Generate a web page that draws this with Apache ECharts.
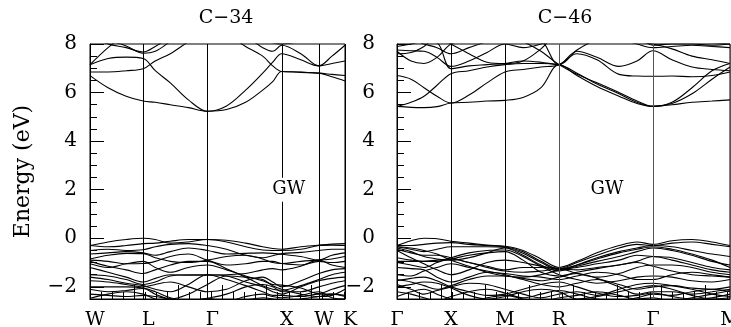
<!DOCTYPE html>
<html>
<head>
<meta charset="utf-8">
<script src="https://cdn.jsdelivr.net/npm/echarts@6/dist/echarts.min.js"></script>
<style>
  html, body { margin: 0; padding: 0; background: #fff; }
  #chart { width: 731px; height: 327px; }
</style>
</head>
<body>
<div id="chart"></div>
<script>
// k-path positions (path length units) and labels
var kLeft = [0, 18, 36, 53, 65, 80, 98, 117, 136, 155, 172, 182, 191, 210, 228, 241, 254];
var kLeftTicks = [0, 53, 117, 191, 228, 254];
var kLeftNames = ['W', 'L', 'Γ', 'X', 'W', 'K'];

var kRight = [0, 14, 27, 40, 54, 72, 90, 108, 126, 144, 162, 180, 200, 222, 240, 256, 275, 295, 315, 333];
var kRightTicks = [0, 54, 108, 162, 256, 333];
var kRightNames = ['Γ', 'X', 'M', 'R', 'Γ', 'M'];

var energyTicks = [-2, 0, 2, 4, 6, 8];

// C-34 bands (eV), one value per kLeft point
var c34Cond = [
  [6.7, 6.2, 5.85, 5.65, 5.6, 5.5, 5.38, 5.23, 5.3, 5.6, 6.1, 6.45, 6.87, 6.83, 6.8, 6.65, 6.48],
  [6.85, 6.85, 6.9, 6.98, 7.3, 7.6, 8.1, 8.6, 8.4, 7.9, 7.5, 7.1, 6.87, 6.85, 6.8, 6.75, 6.7],
  [7.15, 7.4, 7.46, 7.4, 6.9, 6.4, 5.7, 5.23, 5.45, 6.1, 6.8, 7.25, 7.6, 7.35, 7.1, 7.2, 7.3],
  [7.15, 7.85, 8.4, 8.8, 9.0, 9.0, 8.9, 8.8, 8.5, 8.3, 7.85, 7.7, 7.95, 7.6, 7.1, 7.5, 7.95],
  [8.3, 8.0, 7.85, 7.67, 7.9, 8.3, 8.8, 9.0, 9.0, 8.9, 8.6, 8.3, 8.1, 8.2, 8.3, 8.4, 8.5],
  [8.4, 8.15, 7.92, 7.62, 7.7, 8.1, 8.6, 9.0, 8.8, 8.4, 8.2, 8.05, 8.0, 8.1, 8.2, 8.3, 8.4]
];
var c34Val = [
  [-0.3, -0.15, -0.05, 0.0, -0.05, -0.2, -0.15, -0.05, -0.08, -0.2, -0.35, -0.42, -0.45, -0.35, -0.28, -0.24, -0.22],
  [-0.3, -0.35, -0.3, -0.22, -0.2, -0.12, -0.05, -0.05, -0.15, -0.35, -0.48, -0.5, -0.5, -0.45, -0.3, -0.28, -0.3],
  [-0.5, -0.45, -0.5, -0.47, -0.35, -0.25, -0.22, -0.3, -0.45, -0.7, -0.8, -0.72, -0.63, -0.58, -0.5, -0.45, -0.45],
  [-0.65, -0.6, -0.55, -0.6, -0.7, -0.55, -0.4, -0.5, -0.65, -0.62, -0.6, -0.62, -0.66, -0.75, -0.9, -0.7, -0.6],
  [-0.85, -0.7, -0.62, -0.63, -0.8, -0.95, -1.0, -0.9, -0.75, -0.7, -0.85, -1.0, -1.04, -0.95, -0.9, -0.85, -0.75],
  [-0.9, -0.95, -1.05, -1.04, -0.95, -0.75, -0.65, -0.9, -1.1, -1.05, -0.95, -0.95, -1.04, -1.1, -0.95, -1.0, -0.95],
  [-0.95, -1.15, -1.3, -1.45, -1.3, -1.1, -0.95, -0.95, -1.25, -1.6, -1.95, -2.1, -2.14, -1.95, -1.7, -1.5, -1.4],
  [-1.05, -1.2, -1.05, -0.95, -1.2, -1.4, -1.2, -1.1, -1.3, -1.55, -1.75, -1.9, -1.93, -2.05, -2.28, -2.1, -1.95],
  [-1.2, -1.4, -1.6, -1.8, -1.65, -1.5, -1.52, -1.52, -1.5, -1.45, -1.3, -1.25, -1.3, -1.15, -0.9, -1.1, -1.2],
  [-1.5, -1.55, -1.7, -1.9, -1.8, -1.55, -1.5, -1.5, -1.55, -1.8, -2.0, -2.2, -2.3, -2.0, -1.75, -1.65, -1.6],
  [-1.6, -1.7, -1.85, -1.95, -2.1, -2.2, -1.9, -1.5, -1.7, -1.95, -2.2, -2.35, -2.35, -2.4, -2.3, -2.3, -2.35],
  [-1.75, -1.8, -1.9, -2.0, -1.9, -1.8, -2.0, -2.2, -2.1, -1.75, -1.6, -1.8, -2.0, -1.75, -1.45, -1.3, -1.25],
  [-2.0, -2.0, -2.0, -2.05, -2.2, -2.45, -2.6, -2.47, -2.3, -2.0, -1.9, -2.0, -2.2, -2.2, -2.0, -1.85, -1.75],
  [-2.1, -2.2, -2.15, -2.07, -2.3, -2.5, -2.3, -1.9, -1.55, -1.6, -1.7, -1.95, -2.1, -2.3, -2.4, -2.35, -2.1],
  [-2.3, -2.35, -2.4, -2.35, -2.4, -2.5, -2.6, -2.47, -2.6, -2.4, -2.3, -2.4, -2.45, -2.35, -2.2, -2.45, -2.5],
  [-2.47, -2.3, -2.2, -2.3, -2.5, -2.7, -2.8, -2.8, -2.7, -2.55, -2.45, -2.5, -2.6, -2.5, -2.4, -2.3, -2.4]
];

// C-46 bands (eV), one value per kRight point
var c46Cond = [
  [5.43, 5.39, 5.38, 5.42, 5.57, 5.6, 5.65, 5.68, 5.8, 6.2, 7.15, 6.7, 6.25, 5.85, 5.55, 5.43, 5.5, 5.6, 5.65, 5.7],
  [5.43, 5.6, 5.85, 6.3, 6.78, 6.9, 7.05, 7.15, 7.2, 7.2, 7.15, 6.8, 6.35, 5.95, 5.6, 5.43, 5.55, 5.95, 6.55, 7.05],
  [6.7, 6.55, 6.2, 5.85, 5.57, 5.9, 6.4, 6.85, 6.95, 7.05, 7.15, 7.6, 7.35, 6.75, 6.68, 6.67, 6.68, 6.65, 6.7, 6.85],
  [7.7, 7.3, 7.2, 7.45, 8.0, 8.2, 8.4, 8.5, 8.5, 8.2, 7.15, 7.7, 7.45, 7.08, 7.3, 7.72, 7.35, 7.05, 6.95, 6.9],
  [7.75, 7.72, 7.7, 7.45, 7.08, 7.3, 7.65, 8.0, 7.85, 8.0, 8.3, 8.5, 8.4, 8.2, 8.0, 7.85, 7.9, 7.95, 7.9, 7.85],
  [7.9, 8.0, 8.1, 8.05, 6.98, 7.1, 7.15, 7.2, 7.3, 7.25, 7.15, 7.75, 8.2, 8.5, 8.3, 7.95, 8.0, 8.0, 7.95, 8.0],
  [7.6, 7.65, 7.9, 8.3, 8.0, 7.6, 7.25, 7.19, 7.3, 7.8, 8.5, 8.6, 8.5, 8.3, 8.1, 8.0, 7.8, 7.5, 7.35, 7.2],
  [8.3, 8.2, 8.0, 7.85, 7.6, 7.85, 8.1, 8.3, 8.5, 8.6, 8.7, 8.6, 8.5, 8.4, 8.2, 8.1, 8.15, 8.1, 8.05, 8.0],
  [8.5, 8.6, 8.7, 8.8, 8.9, 8.8, 8.6, 8.4, 8.1, 7.7, 7.15, 6.75, 6.4, 6.0, 5.65, 5.43, 5.6, 6.2, 6.9, 7.2]
];
var c46Val = [
  [-0.3, -0.1, 0.0, -0.02, -0.12, -0.2, -0.28, -0.33, -0.5, -0.85, -1.2, -0.95, -0.6, -0.3, -0.15, -0.25, -0.1, -0.05, -0.15, -0.3],
  [-0.3, -0.3, -0.25, -0.2, -0.18, -0.25, -0.3, -0.35, -0.55, -0.95, -1.25, -1.0, -0.7, -0.4, -0.25, -0.3, -0.2, -0.15, -0.25, -0.35],
  [-0.35, -0.45, -0.55, -0.45, -0.35, -0.35, -0.35, -0.38, -0.62, -1.0, -1.3, -1.1, -0.8, -0.55, -0.4, -0.3, -0.35, -0.5, -0.65, -0.75],
  [-0.4, -0.55, -0.75, -0.85, -0.9, -0.8, -0.6, -0.4, -0.7, -1.1, -1.35, -1.15, -0.95, -0.75, -0.55, -0.4, -0.5, -0.7, -0.95, -1.1],
  [-0.45, -0.6, -0.7, -0.7, -0.8, -1.0, -1.15, -1.3, -1.2, -1.2, -1.25, -1.2, -1.05, -0.9, -0.7, -0.75, -0.8, -1.0, -1.2, -1.3],
  [-0.5, -0.8, -1.05, -1.3, -1.5, -1.3, -1.0, -0.9, -1.0, -1.15, -1.25, -1.3, -1.2, -1.1, -0.95, -0.75, -0.9, -1.1, -1.3, -1.4],
  [-0.8, -0.9, -0.95, -0.9, -0.85, -1.0, -1.2, -1.35, -1.4, -1.35, -1.25, -1.45, -1.6, -1.45, -1.2, -1.1, -1.1, -1.2, -1.4, -1.5],
  [-0.95, -0.95, -0.95, -0.95, -0.85, -0.7, -0.6, -0.55, -0.9, -1.4, -1.55, -1.4, -1.25, -1.1, -1.0, -1.15, -1.35, -1.5, -1.55, -1.6],
  [-1.0, -1.1, -1.2, -1.0, -0.8, -0.6, -0.5, -0.48, -0.75, -1.15, -1.5, -1.7, -1.85, -1.75, -1.6, -1.55, -1.6, -1.75, -1.8, -1.7],
  [-1.2, -1.25, -1.3, -1.6, -1.8, -1.6, -1.4, -1.45, -1.55, -1.6, -1.7, -1.55, -1.4, -1.5, -1.7, -1.7, -1.5, -1.4, -1.5, -1.6],
  [-1.5, -1.55, -1.35, -1.2, -1.05, -1.2, -1.35, -1.5, -1.7, -1.9, -2.0, -1.85, -1.7, -1.9, -2.1, -2.0, -1.95, -2.05, -2.1, -2.0],
  [-1.7, -1.8, -1.95, -2.1, -1.95, -1.7, -1.55, -1.55, -1.65, -1.75, -1.6, -1.45, -1.65, -2.0, -2.3, -2.2, -2.2, -2.3, -2.2, -2.1],
  [-1.75, -1.65, -1.6, -1.75, -2.0, -2.2, -2.35, -2.3, -2.1, -1.9, -1.8, -2.0, -2.25, -2.4, -2.35, -2.25, -2.4, -2.5, -2.45, -2.3],
  [-1.9, -2.1, -2.3, -2.15, -2.0, -1.85, -1.9, -2.1, -2.3, -2.45, -2.3, -2.2, -2.35, -2.1, -1.9, -1.85, -1.95, -2.1, -2.3, -2.4],
  [-2.0, -1.9, -1.8, -1.85, -2.05, -2.35, -2.5, -2.4, -2.2, -2.1, -2.2, -2.5, -2.4, -2.2, -2.05, -1.95, -2.1, -2.35, -2.5, -2.45],
  [-2.2, -2.3, -2.45, -2.6, -2.4, -2.2, -2.1, -2.25, -2.45, -2.3, -2.15, -2.3, -2.5, -2.6, -2.45, -2.3, -2.35, -2.2, -2.1, -2.2],
  [-2.4, -2.2, -2.1, -2.3, -2.5, -2.6, -2.45, -2.35, -2.5, -2.6, -2.45, -2.35, -2.2, -2.35, -2.5, -2.45, -2.6, -2.45, -2.3, -2.15],
  [-0.35, -0.4, -0.5, -0.65, -0.9, -1.15, -1.4, -1.55, -1.6, -1.5, -1.3, -1.1, -0.85, -0.6, -0.45, -0.35, -0.45, -0.65, -0.9, -1.2]
];

// annotation anchors (k, energy)
var gwLeft = [198, 2];
var gwRight = [210, 2];

var font = 'DejaVu Serif';
var chart = echarts.init(document.getElementById('chart'));

function bandSeries(k, bands, panel) {
  return bands.map(function (b) {
    return {
      type: 'line',
      xAxisIndex: panel,
      yAxisIndex: panel * 2,
      data: k.map(function (x, i) { return [x, b[i]]; }),
      showSymbol: false,
      smooth: 0.35,
      silent: true,
      lineStyle: { color: '#000', width: 1.1 },
      z: 3
    };
  });
}

function kLines(ticks, names, panel, colors, dx) {
  return {
    type: 'line',
    xAxisIndex: panel,
    yAxisIndex: panel * 2,
    data: [],
    silent: true,
    markLine: {
      symbol: ['none', 'none'],
      silent: true,
      animation: false,
      label: {
        show: true,
        position: 'start',
        distance: 12,
        offset: [dx, 0],
        formatter: '{b}',
        color: '#000',
        fontFamily: font,
        fontSize: 19
      },
      data: ticks.map(function (t, i) {
        return { xAxis: t, name: names[i], lineStyle: { color: colors[i], width: 1, type: 'solid' } };
      })
    }
  };
}

function gwSeries(pt, panel) {
  return {
    type: 'scatter',
    xAxisIndex: panel,
    yAxisIndex: panel * 2,
    data: [pt],
    symbol: 'rect',
    symbolSize: [36, 24],
    itemStyle: { color: '#fff', opacity: 1 },
    silent: true,
    z: 10,
    label: {
      show: true,
      position: 'inside',
      formatter: 'GW',
      color: '#000',
      opacity: 1,
      fontFamily: font,
      fontSize: 18
    }
  };
}

function xAxis(panel, max) {
  return {
    type: 'value',
    gridIndex: panel,
    min: 0,
    max: max,
    interval: 44,
    axisLine: { onZero: false, lineStyle: { color: '#000', width: 1 } },
    axisTick: { inside: true, length: 14, lineStyle: { color: '#000' } },
    minorTick: { show: true, splitNumber: 4, length: 7, lineStyle: { color: '#000' } },
    axisLabel: { show: false },
    splitLine: { show: false }
  };
}

function yAxes(panel, labelMargin, name) {
  return [
    {
      type: 'value',
      gridIndex: panel,
      min: -2.5,
      max: 8,
      interval: 0.5,
      axisLine: { onZero: false, lineStyle: { color: '#000', width: 1 } },
      axisTick: { inside: true, length: 7, lineStyle: { color: '#000' } },
      axisLabel: { show: false },
      splitLine: { show: false },
      name: name,
      nameLocation: 'middle',
      nameGap: 56,
      nameRotate: 90,
      nameTextStyle: { color: '#000', fontFamily: font, fontSize: 22 }
    },
    {
      type: 'value',
      gridIndex: panel,
      min: -2.5,
      max: 8,
      position: 'left',
      axisLine: { show: false, onZero: false },
      axisTick: { show: true, inside: true, length: 14, customValues: energyTicks, lineStyle: { color: '#000' } },
      axisLabel: {
        show: true,
        customValues: energyTicks,
        margin: labelMargin,
        color: '#000',
        fontFamily: font,
        fontSize: 20,
        formatter: function (v) { return v < 0 ? '\u2212' + (-v) : String(v); }
      },
      splitLine: { show: false }
    }
  ];
}

var option = {
  animation: false,
  backgroundColor: '#fff',
  title: [
    { text: 'C\u221234', left: 221, top: 4, textAlign: 'center',
      textStyle: { color: '#000', fontFamily: font, fontSize: 19, fontWeight: 'normal' } },
    { text: 'C\u221246', left: 560, top: 4, textAlign: 'center',
      textStyle: { color: '#000', fontFamily: font, fontSize: 19, fontWeight: 'normal' } }
  ],
  grid: [
    { left: 90, top: 44, width: 255, height: 255, show: true, borderColor: '#000', borderWidth: 1 },
    { left: 397, top: 44, width: 333, height: 255, show: true, borderColor: '#000', borderWidth: 1 }
  ],
  xAxis: [xAxis(0, 254), xAxis(1, 333)],
  yAxis: yAxes(0, 13, 'Energy (eV)').concat(yAxes(1, 22, '')),
  series: [].concat(
    bandSeries(kLeft, c34Cond, 0),
    bandSeries(kLeft, c34Val, 0),
    bandSeries(kRight, c46Cond, 1),
    bandSeries(kRight, c46Val, 1),
    [
      kLines(kLeftTicks, kLeftNames, 0, ['#000', '#000', '#000', '#000', '#000', '#000'], 5),
      kLines(kRightTicks, kRightNames, 1, ['#000', '#000', '#000', '#555', '#555', '#555'], 0),
      gwSeries(gwLeft, 0),
      gwSeries(gwRight, 1)
    ]
  )
};

chart.setOption(option);
</script>
</body>
</html>
